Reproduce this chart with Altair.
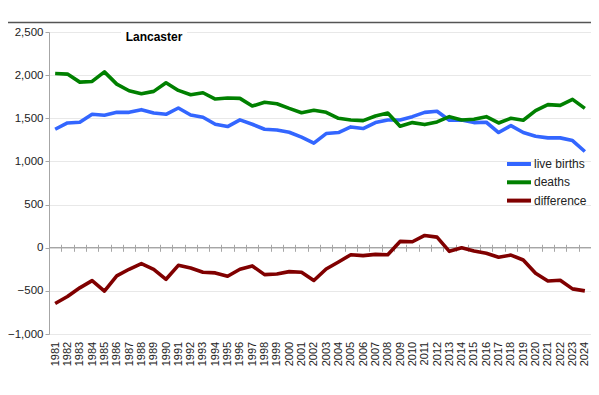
import altair as alt
import pandas as pd

years = [str(y) for y in range(1981, 2025)]
live_births = [1373, 1446, 1454, 1546, 1535, 1569, 1569, 1600, 1562, 1546, 1619, 1538, 1512, 1431, 1404,
               1481, 1431, 1373, 1365, 1338, 1281, 1212, 1323, 1335, 1400, 1381, 1450, 1481, 1481,
               1519, 1569, 1581, 1477, 1481, 1450, 1454, 1335, 1415, 1335, 1292, 1273, 1273, 1242, 1115]
deaths = [2019, 2012, 1919, 1927, 2038, 1896, 1819, 1785, 1812, 1912, 1823, 1773, 1796, 1723, 1735,
          1731, 1642, 1685, 1669, 1615, 1565, 1592, 1569, 1500, 1481, 1473, 1527, 1562, 1408,
          1450, 1427, 1458, 1519, 1481, 1488, 1519, 1446, 1500, 1477, 1588, 1658, 1650, 1719, 1615]
difference = [-646, -566, -465, -381, -503, -327, -250, -185, -250, -366, -204, -235, -284, -292, -331,
              -250, -211, -312, -304, -277, -284, -380, -246, -165, -81, -92, -77, -81, 73,
              69, 142, 123, -42, 0, -38, -65, -111, -85, -142, -296, -385, -377, -477, -500]
series_names = ["live births", "deaths", "difference"]
series_colors = ["#3366FF", "#008000", "#800000"]
title_text = "Lancaster"

rows = []
for name, vals in zip(series_names, [live_births, deaths, difference]):
    for y, v in zip(years, vals):
        rows.append({"year": y, "value": v, "series": name})
df = pd.DataFrame(rows)

W, H = 542, 302
FONT = "Liberation Sans"

x_enc = alt.X("year:N", sort=years, title=None,
              scale=alt.Scale(paddingInner=0, paddingOuter=0),
              axis=alt.Axis(labelAngle=270, labelAlign="right", labelBaseline="middle",
                            labelFontSize=11, labelColor="#222", labelFont=FONT,
                            domain=False, ticks=True, tickSize=7, tickColor="#a6a6a6",
                            tickBand="extent", offset=-89.7, labelPadding=90, grid=False))
y_scale = alt.Scale(domain=[-1000, 2500], nice=False, zero=False)
y_enc = alt.Y("value:Q", title=None, scale=y_scale,
              axis=alt.Axis(values=[-1000, -500, 0, 500, 1000, 1500, 2000, 2500], format=",d",
                            labelFontSize=11.5, labelColor="#222", labelFont=FONT,
                            domainColor="#a6a6a6", tickColor="#a6a6a6", tickSize=4, labelPadding=2,
                            grid=True, gridColor="#d0d0d0", gridDash=[1, 1]))

lines = alt.Chart(df).mark_line(strokeWidth=3.6, strokeJoin="round").encode(
    x=x_enc,
    y=y_enc,
    color=alt.Color("series:N", sort=series_names,
                    scale=alt.Scale(domain=series_names, range=series_colors),
                    legend=alt.Legend(title=None, orient="none", legendX=460, legendY=122,
                                      symbolType="M-1.5,0H1.5", symbolStrokeWidth=4, symbolSize=256,
                                      labelFontSize=12, labelFont=FONT, labelColor="#222",
                                      rowPadding=0.3, labelOffset=5)),
)

zero_df = pd.DataFrame({"v": [0]})
zero_line = alt.Chart(zero_df).mark_rule(color="#a6a6a6", strokeWidth=1.2).encode(
    y=alt.Y("v:Q", scale=y_scale)
)

title_bg = alt.Chart(zero_df).mark_rect(color="white").encode(
    x=alt.value(72), x2=alt.value(138), y=alt.value(-4), y2=alt.value(10)
)
title_mark = alt.Chart(pd.DataFrame({"t": [title_text]})).mark_text(
    fontSize=12, fontWeight="bold", font=FONT, color="#000", align="center", baseline="middle"
).encode(x=alt.value(105), y=alt.value(4.5), text="t:N")

top_border = alt.Chart(zero_df).mark_rule(color="#555", strokeWidth=1.5).encode(
    x=alt.value(-49), x2=alt.value(560), y=alt.value(-9.5)
)

chart = alt.layer(zero_line, lines, title_bg, title_mark, top_border).properties(
    width=W, height=H,
    autosize=alt.AutoSizeParams(type="none"),
    padding={"left": 41, "top": 24, "right": 0, "bottom": 55},
    background="white",
).configure_view(stroke=None)

chart.save("out.html", embed_options={"renderer": "svg", "actions": False})
